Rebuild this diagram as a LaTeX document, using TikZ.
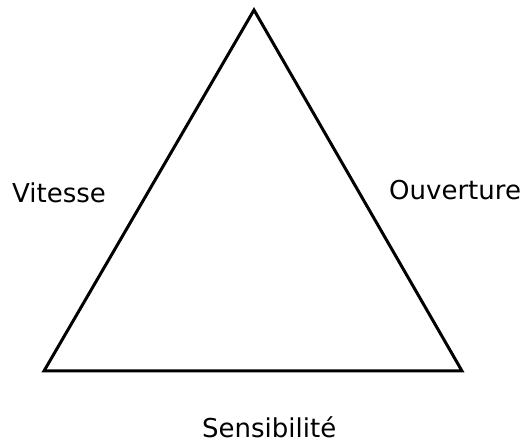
\documentclass[tikz,border=0pt]{standalone}
\usepackage{fontspec}
\setmainfont{DejaVu Sans}
\begin{document}
\begin{tikzpicture}[x=1pt,y=-1pt,
  lbl/.style={inner sep=0pt,anchor=base west,font=\fontsize{26}{30}\selectfont},
  tri/.style={line width=3pt,line join=miter}]
\useasboundingbox (0,0) rectangle (525,443);
\coordinate (top) at (254,10);
\coordinate (bl) at (44,371);
\coordinate (br) at (462,371);
\draw[tri] (top) -- (br) -- (bl) -- cycle;
\node[lbl] (vit) at (12,203) {Vitesse};
\node[lbl] (ouv) at (389,200) {Ouverture};
\node[lbl] (sen) at (202,438) {Sensibilité};
\end{tikzpicture}
\end{document}
